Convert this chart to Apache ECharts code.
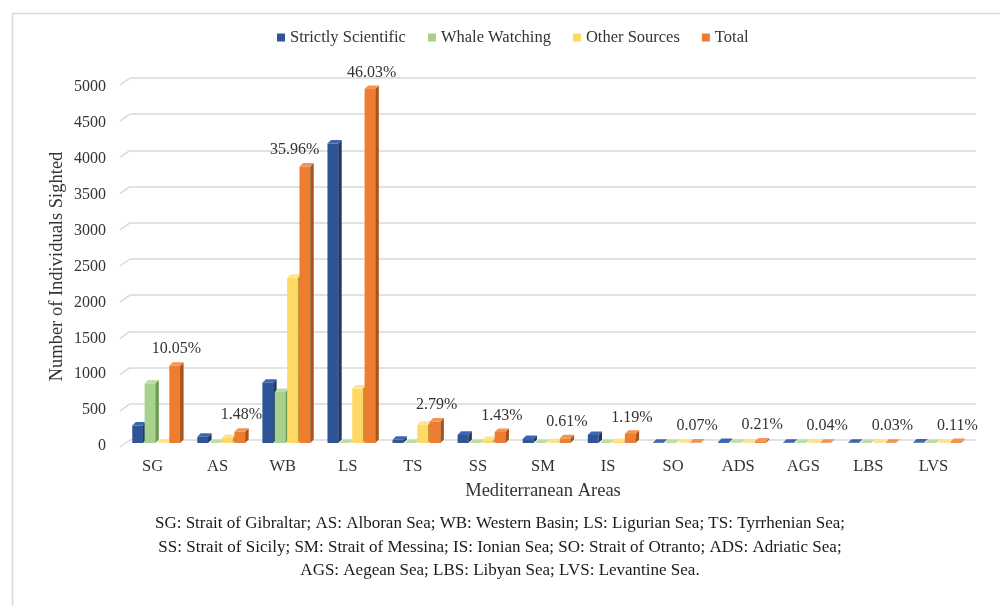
<!DOCTYPE html>
<html>
<head>
<meta charset="utf-8">
<script src="https://cdn.jsdelivr.net/npm/echarts@6/dist/echarts.min.js"></script>
<style>
  html, body { margin: 0; padding: 0; background: #ffffff; }
  #chart { width: 1000px; height: 606px; }
</style>
</head>
<body>
<div id="chart"></div>
<script>
// Sightings per Mediterranean area, by data source
const categories = ['SG', 'AS', 'WB', 'LS', 'TS', 'SS', 'SM', 'IS', 'SO', 'ADS', 'AGS', 'LBS', 'LVS'];
const strictlyScientific = [244, 88, 840, 4170, 45, 113, 55, 112, 5, 12, 3, 2, 6];
const whaleWatching      = [830, 0, 710, 0, 0, 0, 0, 0, 0, 2, 0, 0, 1];
const otherSources       = [2, 70, 2300, 760, 254, 40, 10, 15, 2, 8, 1, 1, 5];
const total              = [1076, 158, 3850, 4930, 299, 153, 65, 127, 7, 22, 4, 3, 12];
const totalShare = ['10.05%', '1.48%', '35.96%', '46.03%', '2.79%', '1.43%', '0.61%',
                    '1.19%', '0.07%', '0.21%', '0.04%', '0.03%', '0.11%'];
const yTicks = [0, 500, 1000, 1500, 2000, 2500, 3000, 3500, 4000, 4500, 5000];

const legendNames = ['Strictly Scientific', 'Whale Watching', 'Other Sources', 'Total'];
const seriesValues = [strictlyScientific, whaleWatching, otherSources, total];
// front, side, top face colours of each column
const palette = [
  { front: '#2F5597', side: '#1F3864', top: '#3D66AE' },
  { front: '#A9D18E', side: '#6E9A52', top: '#BCDDA6' },
  { front: '#FFD966', side: '#BF9B2E', top: '#FFE38A' },
  { front: '#ED7D31', side: '#A9531A', top: '#F29454' }
];

const serif = '"Liberation Serif", "DejaVu Serif", serif';
const textColor = '#333333';

// the WB share label sits a little to the left so it clears the neighbouring column
const shareLabelNudge = { 2: -12 };

// draws one 3D-looking column: front face, right side face and top face
function columnRenderer(k) {
  return function (params, api) {
    const i = api.value(0);
    const v = api.value(1);
    const base = api.coord([i, 0]);
    const top = api.coord([i, v]);
    const band = api.size([1, 0])[0];
    const pitch = band * 0.19;
    const w = band * 0.165;
    const d = band * 0.054;
    const x0 = base[0] - band * 0.312 + k * pitch;
    const yb = base[1] - 3;
    const yt = top[1] - 3;
    const c = palette[k];
    const children = [
      { type: 'rect', shape: { x: x0, y: yt, width: w, height: yb - yt }, style: { fill: c.front } },
      { type: 'polygon', shape: { points: [[x0 + w, yb], [x0 + w + d, yb - d], [x0 + w + d, yt - d], [x0 + w, yt]] }, style: { fill: c.side } },
      { type: 'polygon', shape: { points: [[x0, yt], [x0 + d, yt - d], [x0 + w + d, yt - d], [x0 + w, yt]] }, style: { fill: c.top } }
    ];
    if (k === 3) {
      children.push({
        type: 'text',
        style: {
          text: totalShare[i],
          x: x0 + w / 2 + d / 2 + (shareLabelNudge[i] || 0),
          y: yt - d - 5,
          textAlign: 'center',
          textVerticalAlign: 'bottom',
          font: '16px ' + serif,
          fill: textColor
        }
      });
    }
    return { type: 'group', children: children };
  };
}

// short slanted segment at the left end of each back-wall gridline
function floorEdgeRenderer(params, api) {
  const p = api.coord([0, api.value(0)]);
  const x = params.coordSys.x;
  return {
    type: 'line',
    shape: { x1: x, y1: p[1], x2: x - 10, y2: p[1] + 7 },
    style: { stroke: '#d9d9d9', lineWidth: 1.5 }
  };
}

const chart = echarts.init(document.getElementById('chart'), null, { renderer: 'canvas' });

const series = seriesValues.map((vals, k) => ({
  name: legendNames[k],
  type: 'custom',
  xAxisIndex: 1,
  yAxisIndex: 1,
  itemStyle: { color: palette[k].front },
  renderItem: columnRenderer(k),
  encode: { x: 0, y: 1 },
  data: categories.map((c, i) => [i, vals[i]]),
  z: 3
}));

series.unshift({
  type: 'custom',
  xAxisIndex: 0,
  yAxisIndex: 0,
  renderItem: floorEdgeRenderer,
  encode: { y: 0 },
  data: yTicks.map(t => [t]),
  silent: true,
  z: 1
});

chart.setOption({
  backgroundColor: '#ffffff',
  animation: false,
  graphic: [
    {
      type: 'rect',
      left: 10, top: 11,
      shape: { width: 1010, height: 620 },
      style: { fill: 'none', stroke: '#d9d9d9', lineWidth: 1.5 },
      silent: true
    },
    {
      type: 'text',
      left: 'center',
      top: 512,
      style: {
        text: 'SG: Strait of Gibraltar; AS: Alboran Sea; WB: Western Basin; LS: Ligurian Sea; TS: Tyrrhenian Sea;\n' +
              'SS: Strait of Sicily; SM: Strait of Messina; IS: Ionian Sea; SO: Strait of Otranto; ADS: Adriatic Sea;\n' +
              'AGS: Aegean Sea; LBS: Libyan Sea; LVS: Levantine Sea.',
        textAlign: 'center',
        font: '17px ' + serif,
        lineHeight: 23.5,
        fill: '#1a1a1a'
      }
    }
  ],
  legend: {
    data: legendNames.map(n => ({ name: n, icon: 'rect' })),
    top: 29,
    left: 277,
    padding: 0,
    itemWidth: 8,
    itemHeight: 8,
    itemGap: 22,
    textStyle: { fontFamily: serif, fontSize: 16.5, color: textColor }
  },
  grid: [
    // back wall (gridlines)
    { left: 130, right: 24, top: 78, bottom: 166 },
    // front plane (columns, labels)
    { left: 120, right: 34, top: 87, bottom: 160 }
  ],
  xAxis: [
    { gridIndex: 0, type: 'value', min: 0, max: 1, show: false },
    {
      gridIndex: 1,
      type: 'category',
      data: categories,
      axisLine: { show: false },
      axisTick: { show: false },
      axisLabel: { fontFamily: serif, fontSize: 16.5, color: textColor, margin: 12 },
      name: 'Mediterranean Areas',
      nameLocation: 'middle',
      nameMoveOverlap: false,
      nameGap: 36,
      nameTextStyle: { fontFamily: serif, fontSize: 18.5, color: textColor }
    }
  ],
  yAxis: [
    {
      gridIndex: 0,
      type: 'value',
      min: 0, max: 5000, interval: 500,
      axisLabel: { show: false },
      axisLine: { show: false },
      axisTick: { show: false },
      splitLine: { lineStyle: { color: '#d9d9d9', width: 1.5 } }
    },
    {
      gridIndex: 1,
      type: 'value',
      min: 0, max: 5000, interval: 500,
      axisLine: { show: false },
      axisTick: { show: false },
      splitLine: { show: false },
      axisLabel: {
        fontFamily: serif, fontSize: 16, color: textColor, margin: 14,
        formatter: v => String(v)
      },
      name: 'Number of Individuals Sighted',
      nameLocation: 'middle',
      nameMoveOverlap: false,
      nameGap: 53,
      nameTextStyle: { fontFamily: serif, fontSize: 18.5, color: textColor }
    }
  ],
  series: series
});
</script>
</body>
</html>
